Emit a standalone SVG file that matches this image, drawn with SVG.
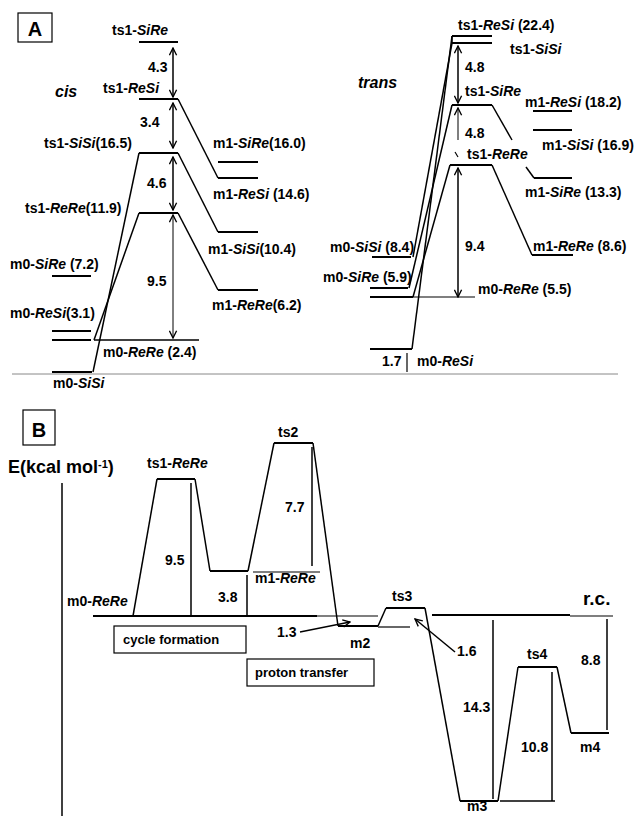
<svg xmlns="http://www.w3.org/2000/svg" width="635" height="816" viewBox="0 0 635 816">
<defs>
<style>
.t{font-family:"Liberation Sans",Arial,sans-serif;font-weight:bold;font-size:14px;fill:#000}
.i{font-style:italic}
.big{font-size:18px}
.lv{stroke:#000;stroke-width:2;fill:none}
.lg{stroke:#000;stroke-width:1.5;fill:none}
.th{stroke:#000;stroke-width:1.2;fill:none}
.gr{stroke:#888;stroke-width:1;fill:none}
.ar{stroke:#000;stroke-width:1.5;fill:none;marker-end:url(#ah)}
.ar2{stroke:#000;stroke-width:1.5;fill:none;marker-start:url(#ah);marker-end:url(#ah)}
.box{stroke:#000;stroke-width:1.2;fill:#fff}
</style>
<marker id="ah" viewBox="0 0 10 10" refX="9" refY="5" markerWidth="9" markerHeight="9" markerUnits="userSpaceOnUse" orient="auto-start-reverse">
<path d="M1,1 L9,5 L1,9" fill="none" stroke="#000" stroke-width="1.5"/>
</marker>
</defs>
<rect width="635" height="816" fill="#fff"/>

<!-- Panel A header -->
<g id="panelA-label">
<rect class="box" x="18" y="13" width="34" height="29" fill="none"/>
<text class="t" x="35" y="36" text-anchor="middle" style="font-size:20px">A</text>
<text class="t i" x="55" y="97" style="font-size:16px">cis</text>
<text class="t i" x="358" y="88" style="font-size:16px">trans</text>
</g>

<!-- cis nodes -->
<g id="cis-ts1-SiRe"><line class="lv" x1="139" y1="42" x2="178" y2="42"/><text class="t" x="112" y="35">ts1-<tspan class="i">SiRe</tspan></text></g>
<g id="cis-ts1-ReSi"><line class="lv" x1="139" y1="99" x2="178" y2="99"/><text class="t" x="103" y="93">ts1-<tspan class="i">ReSi</tspan></text></g>
<g id="cis-ts1-SiSi"><line class="lv" x1="139" y1="153" x2="178" y2="153"/><text class="t" x="44" y="148">ts1-<tspan class="i">SiSi</tspan>(16.5)</text></g>
<g id="cis-ts1-ReRe"><line class="lv" x1="139" y1="213" x2="178" y2="213"/><text class="t" x="25" y="213">ts1-<tspan class="i">ReRe</tspan>(11.9)</text></g>
<g id="cis-m1-SiRe"><line class="lv" x1="218" y1="162" x2="258" y2="162"/><text class="t" x="213" y="148">m1-<tspan class="i">SiRe</tspan>(16.0)</text></g>
<g id="cis-m1-ReSi"><line class="lv" x1="218" y1="178" x2="258" y2="178"/><text class="t" x="213" y="199">m1-<tspan class="i">ReSi</tspan> (14.6)</text></g>
<g id="cis-m1-SiSi"><line class="lv" x1="218" y1="232" x2="258" y2="232"/><text class="t" x="208" y="254">m1-<tspan class="i">SiSi</tspan>(10.4)</text></g>
<g id="cis-m1-ReRe"><line class="lv" x1="218" y1="290" x2="258" y2="290"/><text class="t" x="212" y="310">m1-<tspan class="i">ReRe</tspan>(6.2)</text></g>
<g id="cis-m0-SiRe"><line class="lv" x1="52" y1="276" x2="91" y2="276"/><text class="t" x="10" y="269">m0-<tspan class="i">SiRe</tspan> (7.2)</text></g>
<g id="cis-m0-ReSi"><line class="lv" x1="52" y1="331" x2="91" y2="331"/><line class="lv" x1="52" y1="340" x2="91" y2="340"/><text class="t" x="10" y="318">m0-<tspan class="i">ReSi</tspan>(3.1)</text></g>
<g id="cis-m0-ReRe"><line class="lg" x1="94" y1="340" x2="199" y2="340"/><text class="t" x="103" y="357">m0-<tspan class="i">ReRe</tspan> (2.4)</text></g>
<g id="cis-m0-SiSi"><line class="lv" x1="52" y1="372" x2="92" y2="372"/><text class="t" x="53" y="388">m0-<tspan class="i">SiSi</tspan></text></g>

<!-- trans nodes -->
<g id="tr-ts1-ReSi"><line class="lv" x1="452" y1="36" x2="492" y2="36"/><text class="t" x="458" y="30">ts1-<tspan class="i">ReSi</tspan> (22.4)</text></g>
<g id="tr-ts1-SiSi"><line class="lv" x1="452" y1="43" x2="492" y2="43"/><line class="lg" x1="452" y1="36" x2="452" y2="43"/><text class="t" x="510" y="54">ts1-<tspan class="i">SiSi</tspan></text></g>
<g id="tr-ts1-SiRe"><line class="lv" x1="452" y1="105" x2="492" y2="105"/><text class="t" x="465" y="96">ts1-<tspan class="i">SiRe</tspan></text></g>
<g id="tr-ts1-ReRe"><line class="lv" x1="450" y1="165" x2="492" y2="165"/><line class="th" x1="455" y1="152" x2="458" y2="157"/><text class="t" x="467" y="159">ts1-<tspan class="i">ReRe</tspan></text></g>
<g id="tr-m1-ReSi"><line class="lv" x1="533" y1="111" x2="572" y2="111"/><text class="t" x="525" y="107">m1-<tspan class="i">ReSi</tspan> (18.2)</text></g>
<g id="tr-m1-SiSi"><line class="lv" x1="533" y1="130" x2="572" y2="130"/><text class="t" x="542" y="150">m1-<tspan class="i">SiSi</tspan> (16.9)</text></g>
<g id="tr-m1-SiRe"><line class="lv" x1="534" y1="178" x2="572" y2="178"/><text class="t" x="525" y="197">m1-<tspan class="i">SiRe</tspan> (13.3)</text></g>
<g id="tr-m1-ReRe"><line class="lv" x1="532" y1="255" x2="573" y2="255"/><text class="t" x="533" y="251">m1-<tspan class="i">ReRe</tspan> (8.6)</text></g>
<g id="tr-m0-SiSi"><line class="lv" x1="372" y1="257" x2="411" y2="257"/><text class="t" x="330" y="252">m0-<tspan class="i">SiSi</tspan> (8.4)</text></g>
<g id="tr-m0-SiRe"><line class="lv" x1="370" y1="288" x2="408" y2="288"/><line class="lv" x1="370" y1="297" x2="413" y2="297"/><text class="t" x="323" y="282">m0-<tspan class="i">SiRe</tspan> (5.9)</text></g>
<g id="tr-m0-ReRe"><line class="th" x1="413" y1="297" x2="475" y2="297"/><text class="t" x="478" y="294">m0-<tspan class="i">ReRe</tspan> (5.5)</text></g>
<g id="tr-m0-ReSi"><line class="lv" x1="370" y1="349" x2="412" y2="349"/><line class="th" x1="407" y1="353" x2="407" y2="372"/><text class="t" x="382" y="366">1.7</text><text class="t" x="417" y="366">m0-<tspan class="i">ReSi</tspan></text></g>

<line class="gr" x1="12" y1="374" x2="618" y2="374"/>

<!-- Panel B header -->
<g id="panelB-label">
<rect class="box" x="23" y="410" width="32" height="35" fill="none"/>
<text class="t" x="39" y="437" text-anchor="middle" style="font-size:20px">B</text>
<text class="t big" x="8" y="473">E(kcal mol<tspan dy="-5" style="font-size:11px">-1</tspan><tspan dy="5">)</tspan></text>
<line class="lg" x1="62" y1="483" x2="62" y2="816"/>
<text class="t" x="583" y="605" style="font-size:19px">r.c.</text>
</g>

<g id="B-m0-ReRe"><text class="t" x="67" y="606">m0-<tspan class="i">ReRe</tspan></text></g>
<g id="B-ts1-ReRe"><line class="lv" x1="157" y1="479" x2="195" y2="479"/><text class="t" x="147" y="468">ts1-<tspan class="i">ReRe</tspan></text></g>
<g id="B-m1-ReRe"><line class="lv" x1="210" y1="571" x2="248" y2="571"/><line class="th" x1="253" y1="572" x2="320" y2="572" stroke="#555"/><text class="t" x="255" y="583">m1-<tspan class="i">ReRe</tspan></text></g>
<g id="B-ts2"><line class="lv" x1="274" y1="443" x2="313" y2="443"/><text class="t" x="278" y="437">ts2</text></g>
<g id="B-m2"><line class="lv" x1="338" y1="626" x2="378" y2="626"/><text class="t" x="350" y="648">m2</text></g>
<g id="B-ts3"><line class="lv" x1="386" y1="608" x2="425" y2="608"/><line class="th" x1="378" y1="627" x2="410" y2="627"/><text class="t" x="392" y="601">ts3</text></g>
<g id="B-m3"><line class="lv" x1="460" y1="801" x2="498" y2="801"/><line class="lg" x1="500" y1="801" x2="555" y2="801"/><text class="t" x="467" y="811">m3</text></g>
<g id="B-ts4"><line class="lv" x1="518" y1="667" x2="557" y2="667"/><text class="t" x="527" y="659">ts4</text></g>
<g id="B-m4"><line class="lv" x1="571" y1="733" x2="609" y2="733"/><text class="t" x="580" y="752">m4</text></g>
<g id="B-boxes">
<rect class="box" x="114" y="626" width="132" height="27"/><text class="t" x="123" y="644" style="font-size:13px">cycle formation</text>
<rect class="box" x="247" y="659" width="127" height="27"/><text class="t" x="255" y="677" style="font-size:13px">proton transfer</text>
</g>

<!-- connectors -->
<g id="connectors">
<line class="lg" x1="178" y1="99" x2="218" y2="178"/>
<line class="lg" x1="178" y1="153" x2="218" y2="232"/>
<line class="lg" x1="178" y1="213" x2="218" y2="290"/>
<line class="lg" x1="139" y1="153" x2="93" y2="372"/>
<line class="lg" x1="139" y1="213" x2="94" y2="340"/>
<line class="ar2" x1="173" y1="48" x2="173" y2="97"/>
<line class="ar2" x1="173" y1="103" x2="173" y2="148"/>
<line class="ar2" x1="173" y1="157" x2="173" y2="210"/>
<line class="ar2" x1="173" y1="215" x2="173" y2="338" style="stroke-width:1"/>
<text class="t" x="148" y="72">4.3</text>
<text class="t" x="140" y="127">3.4</text>
<text class="t" x="147" y="188">4.6</text>
<text class="t" x="147" y="286">9.5</text>
<line class="lg" x1="452" y1="36" x2="412" y2="349"/>
<line class="lg" x1="452" y1="43" x2="413" y2="257"/>
<line class="lg" x1="452" y1="105" x2="409" y2="288"/>
<line class="lg" x1="450" y1="165" x2="413" y2="297"/>
<line class="lg" x1="492" y1="105" x2="512" y2="140"/>
<line class="lg" x1="492" y1="165" x2="532" y2="255"/>
<line class="lg" x1="526" y1="167" x2="534" y2="178"/>
<line class="ar2" x1="458" y1="46" x2="458" y2="103"/>
<line class="ar" x1="458" y1="140" x2="458" y2="108" style="stroke:#555"/>
<line class="ar2" x1="458" y1="168" x2="458" y2="297"/>
<text class="t" x="465" y="72">4.8</text>
<text class="t" x="465" y="138">4.8</text>
<text class="t" x="465" y="251">9.4</text>
<polyline class="lg" points="133,616 157,479"/>
<polyline class="lg" points="195,479 210,571"/>
<polyline class="lg" points="248,571 274,443"/>
<polyline class="lg" points="313,443 338,626"/>
<polyline class="lg" points="378,626 386,608"/>
<polyline class="lg" points="425,608 460,801"/>
<polyline class="lg" points="498,801 518,667"/>
<polyline class="lg" points="557,667 571,733"/>
<line class="lv" x1="93" y1="616" x2="317" y2="616"/>
<line class="th" x1="317" y1="616" x2="378" y2="616"/>
<line class="lv" x1="432" y1="615" x2="570" y2="615"/>
<line class="th" x1="570" y1="616" x2="613" y2="616"/>
<line class="lg" x1="191" y1="483" x2="191" y2="616"/>
<line class="lg" x1="247" y1="575" x2="247" y2="616"/>
<line class="lg" x1="312" y1="447" x2="312" y2="566"/>
<line class="lg" x1="493" y1="620" x2="493" y2="799"/>
<line class="lg" x1="552" y1="672" x2="552" y2="801"/>
<line class="lg" x1="607" y1="619" x2="607" y2="730"/>
<text class="t" x="165" y="565">9.5</text>
<text class="t" x="218" y="602">3.8</text>
<text class="t" x="285" y="512">7.7</text>
<text class="t" x="463" y="712">14.3</text>
<text class="t" x="521" y="752">10.8</text>
<text class="t" x="581" y="665">8.8</text>
<line class="ar" x1="300" y1="632" x2="350" y2="622"/>
<text class="t" x="277" y="637">1.3</text>
<line class="ar" x1="455" y1="652" x2="415" y2="619"/>
<text class="t" x="457" y="656">1.6</text>
</g>
</svg>
